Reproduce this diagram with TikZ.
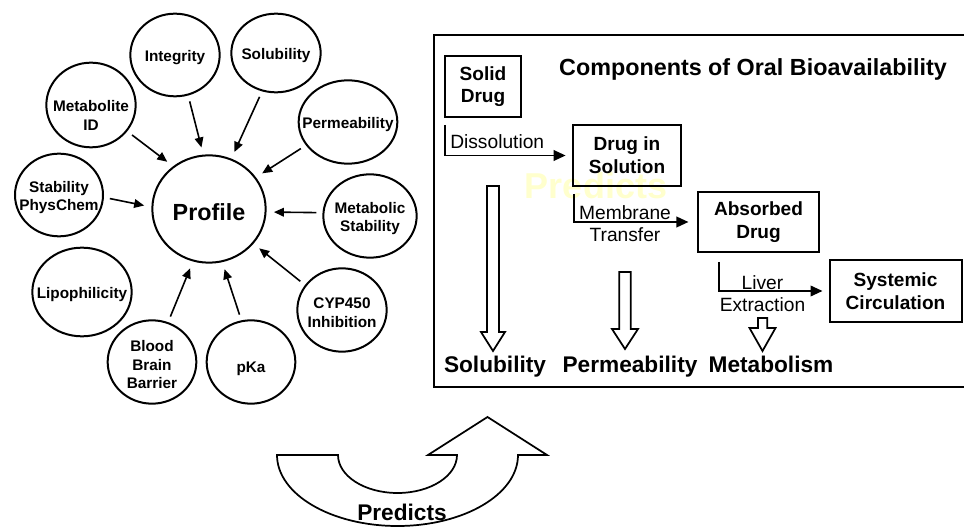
\documentclass[tikz,border=0pt]{standalone}
\usepackage{fontspec}
\setmainfont{Liberation Sans}
\usetikzlibrary{shapes.geometric,arrows.meta}
\definecolor{faint}{RGB}{255,255,205}

\begin{document}
\begin{tikzpicture}[x=0.75pt,y=-0.75pt,
        prop/.style 2 args={ellipse,draw,line width=1.5pt,inner sep=0pt,minimum width=#1,minimum height=#2},
        stage/.style 2 args={draw,line width=1.5pt,align=center,inner sep=0pt,minimum width=#1,minimum height=#2,font=\fontsize{14.3}{17}\selectfont\bfseries},
        every label/.style={align=center,inner sep=0pt,font=\fontsize{11.5}{14}\selectfont\bfseries,yshift=-2pt},
        arr/.style={line width=1.2pt,-{Triangle[length=7.5pt,width=6.5pt]},shorten <=4.5pt,shorten >=5.5pt},
        flow/.style={line width=1.3pt,-{Triangle[length=9pt,width=8pt]}},
        lbl/.style={align=center,inner sep=0pt,font=\fontsize{14.4}{17}\selectfont},
        big/.style={inner sep=0pt,anchor=base,font=\fontsize{17}{20}\selectfont\bfseries}]
        \useasboundingbox (0,0) rectangle (964,527);

        % properties round the profile
        \node[prop={85pt}{80.5pt},label={[font=\fontsize{17.5}{20}\selectfont\bfseries]center:Profile}] at (209,209) (prof) {};
        \node[prop={67pt}{62pt},label=center:Integrity] at (175,55) (integ) {};
        \node[prop={67pt}{59pt},label=center:Solubility] at (276,53) (solub) {};
        \node[prop={67pt}{63.5pt},label={[yshift=-6pt]center:Metabolite\\ID}] at (91,105) (metid) {};
        \node[prop={74pt}{62.5pt},label=center:Permeability] at (348,122) (perm) {};
        \node[prop={66pt}{62pt},label=center:Stability\\PhysChem] at (59,195) (stab) {};
        \node[prop={70pt}{62.5pt},label=center:Metabolic\\Stability] at (370,216) (metst) {};
        \node[prop={74.5pt}{66.5pt},label=center:Lipophilicity] at (82,292) (lipo) {};
        \node[prop={67pt}{62.5pt},label=center:CYP450\\Inhibition] at (342,310) (cyp) {};
        \node[prop={66.5pt}{62.5pt},label=center:Blood\\Brain\\Barrier] at (152,362) (bbb) {};
        \node[prop={66.5pt}{62.5pt},label={[yshift=-3pt]center:pKa}] at (251,362) (pka) {};

        \draw[arr] (integ.-72) -- (prof.96);
        \draw[arr] (solub.-110) -- (prof.66);
        \draw[arr] (metid.-36) -- (prof.130);
        \draw[arr] (perm.-151) -- (prof.34);
        \draw[arr] (stab.-3) -- (prof.178);
        \draw[arr] (metst.176) -- (prof.-3);
        \draw[arr] (cyp.146) -- (prof.-38);
        \draw[arr] (bbb.68) -- (prof.-107);
        \draw[arr] (pka.103) -- (prof.-76);

        % bioavailability panel
        \draw[line width=1.5pt] (434,35) rectangle (985,387);
        \node[text=faint,inner sep=0pt,font=\fontsize{27}{30}\selectfont\bfseries] at (596,186) (wm) {Predicts};
        \node[inner sep=0pt,anchor=base,font=\fontsize{17.5}{21}\selectfont\bfseries] at (753,76) (title) {Components of Oral Bioavailability};

        \node[stage={57pt}{46pt}] at (483,86.5) (solid) {Solid\\Drug};
        \node[stage={81pt}{46pt}] at (627,155.5) (dsol) {Drug in\\Solution};
        \node[stage={91pt}{45pt}] at (758.5,222) (absd) {Absorbed\\Drug};
        \node[stage={99pt}{47pt}] at (895.5,291) (syst) {Systemic\\Circulation};

        \coordinate (d0) at (445,125);
        \coordinate (m0) at (574,194);
        \coordinate (l0) at (719,262);
        \draw[flow,shorten >=4.8pt] (d0) |- (dsol.west);
        \draw[flow,shorten >=6.3pt] (m0) |- (absd.west);
        \draw[flow,shorten >=4.5pt] (l0) |- (syst.west);
        \node[lbl,anchor=west] at (450,142) (ldis) {Dissolution};
        \node[lbl] at (625,223.5) (lmem) {Membrane\\Transfer};
        \node[lbl] at (762.5,293.5) (lliv) {Liver\\Extraction};

        \node[big] at (495,373) (lsol) {Solubility};
        \node[big] at (630,373) (lperm) {Permeability};
        \node[big] at (771,373) (lmet) {Metabolism};

        \draw[line width=1.3pt] (487,186) -- (499,186) -- (499,332) -- (505,332) -- (493,351) -- (481,332) -- (487,332) -- cycle;
        \draw[line width=1.3pt] (619.3,272) -- (630.7,272) -- (630.7,329) -- (638,329) -- (625,349) -- (612,329) -- (619.3,329) -- cycle;
        \draw[line width=1.3pt] (758,318) -- (767.3,318) -- (767.3,328) -- (775.5,328) -- (762.5,351) -- (749.5,328) -- (758,328) -- cycle;

        % curved arrow
        \draw[line width=1.3pt] (277,455) -- (338,455) arc[start angle=180,end angle=0,x radius=59.5,y radius=38]
            -- (428,455) -- (487.5,417) -- (547,455) -- (518,455)
            arc[start angle=0,end angle=180,x radius=120.5,y radius=71] -- cycle;
        \node[big] at (402,520) (pred) {Predicts};
    \end{tikzpicture}
\end{document}
